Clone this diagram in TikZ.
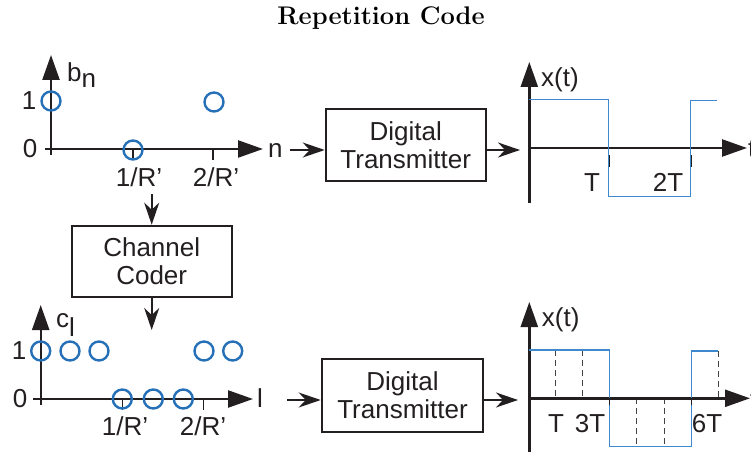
\documentclass[tikz,border=0pt]{standalone}
\usepackage{fontspec}
\newfontfamily\hv{Liberation Sans}
\usetikzlibrary{arrows.meta}
\definecolor{dotblue}{RGB}{38,112,184}
\definecolor{sigblue}{RGB}{62,136,206}
\definecolor{ink}{RGB}{35,31,32}
\begin{document}
\begin{tikzpicture}[x=1bp,y=-1bp,
  lbl/.style={font=\hv\fontsize{26bp}{28bp}\selectfont, text=ink, inner sep=0pt},
  axis/.style={line width=2.4bp, draw=ink, -{Triangle[length=25bp,width=17bp]}},
  conn/.style={line width=1.6bp, draw=ink, -{Stealth[length=22bp,width=15bp,inset=7bp]}},
  box/.style={lbl, draw=ink, line width=2bp, align=center, minimum width=160bp, minimum height=72bp},
  dot/.style={circle, draw=dotblue, line width=2.4bp, minimum size=19bp, inner sep=0pt},
  sig/.style={draw=sigblue, line width=1.5bp},
  tickmark/.style={draw=ink, line width=1.2bp},
  gridline/.style={draw=ink!85, line width=1bp, dash pattern=on 6bp off 4bp}
]
\useasboundingbox (0,0) rectangle (751,453);

% title
\node[font=\bfseries\fontsize{25.5bp}{28bp}\selectfont, inner sep=0pt] (title) at (381,18) {Repetition Code};

% ---------- top-left plot b_n ----------
\draw[axis] (51,155) -- (51,55);
\draw[axis] (45,149) -- (263,149);
\draw[tickmark] (133,149) -- (133,160);
\draw[tickmark] (213,149) -- (213,160);
\node[dot] (b0) at (51,101) {};
\node[dot] (b1) at (133,150) {};
\node[dot] (b2) at (214,102) {};
\node[lbl] (one1) at (29,101) {1};
\node[lbl] (zero1) at (30,149) {0};
\node[lbl, anchor=base west] (bn) at (67,82) {b\raisebox{-6bp}{n}};
\node[lbl, anchor=base west] (nlab) at (268,158) {n};
\node[lbl, anchor=base] (r1a) at (139,187) {1/R’};
\node[lbl, anchor=base] (r2a) at (216,187) {2/R’};

% ---------- boxes ----------
\node[box] (tx1) at (405.7,145) {Digital\\Transmitter};
\node[box, minimum height=71.6bp] (cc) at (151.7,261.5) {Channel\\Coder};
\node[box, minimum width=161.6bp, minimum height=72.7bp] (tx2) at (402.5,395.3) {Digital\\Transmitter};

% ---------- connectors ----------
\coordinate (a1) at (290,150);
\coordinate (a2) at (520,150);
\coordinate (a3) at (151.7,194);
\coordinate (a4) at (151.7,330);
\coordinate (a5) at (287,400);
\coordinate (a6) at (518,400);
\draw[conn] (a1) -- (a1 -| tx1.west);
\draw[conn] (a2 -| tx1.east) -- (a2);
\draw[conn] (a3) -- (cc.north);
\draw[conn] (cc.south) -- (a4);
\draw[conn] (a5) -- (a5 -| tx2.west);
\draw[conn] (a6 -| tx2.east) -- (a6);

% ---------- top-right plot x(t) ----------
\draw[axis] (529.3,203) -- (529.3,62);
\draw[axis] (529.3,148) -- (747,148);
\draw[sig] (529.3,99.3) -- (608.5,99.3) -- (608.5,196.7) -- (690.7,196.7) -- (690.7,100.5) -- (716.7,100.5);
\draw[tickmark] (609.3,155) -- (609.3,167);
\draw[tickmark] (691.3,155) -- (691.3,167);
\node[lbl, anchor=base west] (xt1) at (541,87) {x(t)};
\node[lbl, anchor=base] (T1) at (592,192) {T};
\node[lbl, anchor=base] (T2) at (668,192) {2T};
\node[lbl, anchor=base west] (t1) at (748,158) {t};

% ---------- bottom-left plot c_l ----------
\draw[axis] (40.7,405) -- (40.7,305);
\draw[axis] (33,399) -- (253,399);
\draw[tickmark] (122.3,399) -- (122.3,410);
\draw[tickmark] (203.3,399) -- (203.3,410);
\node[dot] (c0) at (40.7,351) {};
\node[dot] (c1) at (70,351) {};
\node[dot] (c2) at (99,351) {};
\node[dot] (c3) at (122.3,399) {};
\node[dot] (c4) at (153.3,399) {};
\node[dot] (c5) at (183.3,399) {};
\node[dot] (c6) at (204,351) {};
\node[dot] (c7) at (232.7,351) {};
\node[lbl] (one2) at (19,351) {1};
\node[lbl] (zero2) at (20,399) {0};
\node[lbl, anchor=base west] (cl) at (56,328) {c\raisebox{-9bp}{l}};
\node[lbl, anchor=base west] (llab) at (257,407) {l};
\node[lbl, anchor=base] (r1b) at (125,435) {1/R’};
\node[lbl, anchor=base] (r2b) at (203,435) {2/R’};

% ---------- bottom-right plot x(t) ----------
\draw[gridline] (555.7,350) -- (555.7,398);
\draw[gridline] (582.7,350) -- (582.7,398);
\draw[gridline] (636.7,398) -- (636.7,446.7);
\draw[gridline] (664,398) -- (664,446.7);
\draw[gridline] (718.3,351) -- (718.3,398);
\draw[axis] (529.3,452) -- (529.3,302);
\draw[axis] (529.3,398.3) -- (750,398.3);
\draw[sig] (529.3,350) -- (609.3,350) -- (609.3,446.7) -- (691.7,446.7) -- (691.7,351) -- (718.3,351);
\draw[tickmark] (609.3,398) -- (609.3,405);
\draw[tickmark] (691.7,398) -- (691.7,405);
\node[lbl, anchor=base west] (xt2) at (541.7,327) {x(t)};
\node[lbl, anchor=base] (T3) at (556,432) {T};
\node[lbl, anchor=base] (T4) at (590,432) {3T};
\node[lbl, anchor=base] (T5) at (707,432) {6T};
\node[lbl, anchor=base west] (t2) at (750,408) {t};
\end{tikzpicture}
\end{document}
